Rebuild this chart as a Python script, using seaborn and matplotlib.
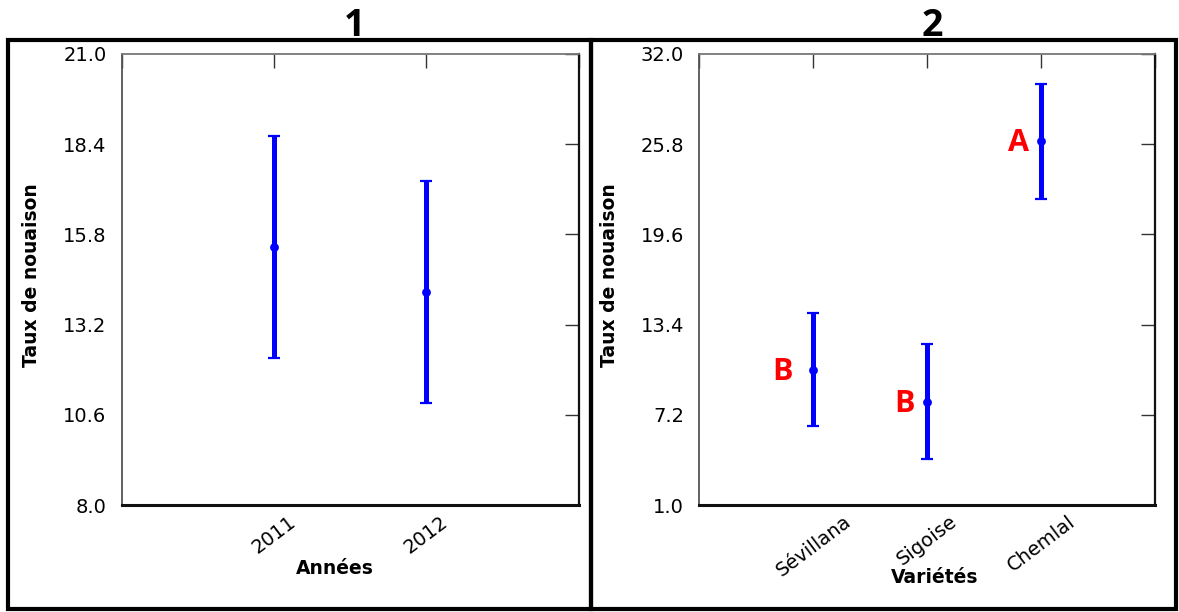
import numpy as np
import pandas as pd
import matplotlib
matplotlib.use("Agg")
import matplotlib.pyplot as plt
from matplotlib.patches import Rectangle
import seaborn as sns

# Panel 1: fruit set rate by year
years = ["2011", "2012"]
year_mean = [15.43, 14.13]
year_err = [3.2, 3.2]
year_yticks = [8.0, 10.6, 13.2, 15.8, 18.4, 21.0]

# Panel 2: fruit set rate by variety, with group letters
varieties = ["Sévillana", "Sigoise", "Chemlal"]
variety_mean = [10.3, 8.1, 26.0]
variety_err = [3.9, 3.95, 3.95]
variety_groups = ["B", "B", "A"]
variety_yticks = [1.0, 7.2, 13.4, 19.6, 25.8, 32.0]

sns.set_theme(style="white")
plt.rcParams["font.family"] = ["DejaVu Sans"]
plt.rcParams.update({"text.color": "black", "axes.labelcolor": "black",
                     "xtick.color": "black", "ytick.color": "black",
                     "xtick.labelcolor": "black", "ytick.labelcolor": "black"})

fig = plt.figure(figsize=(11.79, 6.12), dpi=100)

BLUE = "#0000ff"


def draw_panel(ax, cats, means, errs, yticks, xlabel, title, label_x, label_y):
    df = pd.DataFrame({"pos": np.arange(len(cats)), "mean": means, "err": errs})
    ax.errorbar(df["pos"], df["mean"], yerr=df["err"], fmt="none", ecolor=BLUE,
                elinewidth=3.6, capsize=4.5, capthick=1.6, zorder=2)
    sns.scatterplot(data=df, x="pos", y="mean", color=BLUE, s=40, edgecolor=BLUE,
                    linewidth=0, ax=ax, zorder=3)
    n = len(cats)
    ax.set_xlim(-1, n)
    ax.set_ylim(yticks[0], yticks[-1])
    ax.set_xticks(np.arange(-1, n + 1))
    ax.set_xticklabels([""] + list(cats) + [""], rotation=37, ha="center",
                       fontsize=14, color="black")
    ax.set_yticks(yticks)
    ax.set_yticklabels([f"{v:.1f}" for v in yticks], fontsize=14, color="black")
    ax.tick_params(axis="both", direction="in", top=True, right=True,
                   length=10, width=1, color="#333333")
    ax.tick_params(axis="x", pad=5)
    ax.tick_params(axis="y", pad=11)
    for side, col, lw in [("left", "#555555", 1.3), ("top", "#777777", 1.3),
                          ("right", "#111111", 1.6), ("bottom", "#111111", 2.2)]:
        ax.spines[side].set_visible(True)
        ax.spines[side].set_color(col)
        ax.spines[side].set_linewidth(lw)
    ax.set_xlabel(xlabel, fontsize=13.5, fontweight="bold", color="black")
    ax.xaxis.set_label_coords(label_x, label_y)
    ax.set_ylabel("Taux de nouaison", fontsize=13.5, fontweight="bold",
                  color="black")
    ax.yaxis.set_label_coords(-0.176, 0.51)
    ax.set_title(title, fontsize=27, fontweight="bold", family="Open Sans",
                 pad=13, x=0.51, color="black")
    ax.grid(False)


ax1 = fig.add_axes([0.1032, 0.1748, 0.3876, 0.737])
draw_panel(ax1, years, year_mean, year_err, year_yticks, "Années", "1",
           0.467, -0.12)

ax2 = fig.add_axes([0.5931, 0.1748, 0.3869, 0.737])
draw_panel(ax2, varieties, variety_mean, variety_err, variety_yticks,
           "Variétés", "2", 0.515, -0.14)

# group letters to the left of each variety's mean
letter_dx = [-15, -9, -9]
for i, (m, g) in enumerate(zip(variety_mean, variety_groups)):
    ax2.annotate(g, xy=(i, m), xytext=(letter_dx[i], -1.5),
                 textcoords="offset points", ha="right", va="center",
                 color="#ff0000", fontsize=22, fontweight="bold",
                 family="Open Sans")

# frames around each panel
for x0, x1 in [(7.7, 591.0), (591.0, 1176.0)]:
    fig.patches.append(Rectangle((x0 / 1179, 3 / 612), (x1 - x0) / 1179,
                                 569 / 612, transform=fig.transFigure,
                                 fill=False, edgecolor="black", linewidth=3,
                                 zorder=10))

fig.savefig("out.png", dpi=100)
